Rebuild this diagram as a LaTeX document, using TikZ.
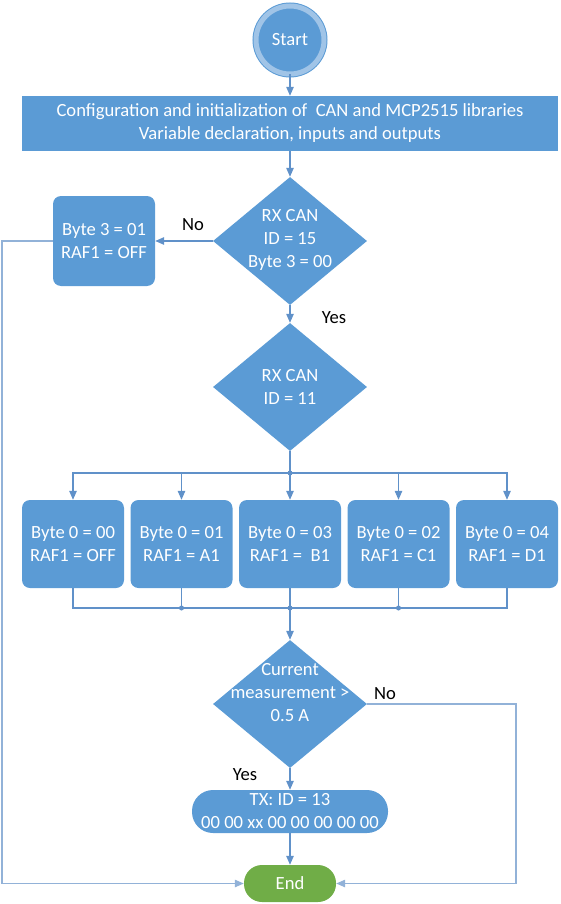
\documentclass[tikz,border=0pt]{standalone}
\usepackage{fontspec}
\setmainfont{Carlito}
\usepackage{tikz}
\usetikzlibrary{shapes,arrows.meta,positioning}
\definecolor{boxblue}{RGB}{91,155,213}
\definecolor{ringblue}{RGB}{160,196,231}
\definecolor{lineblue}{RGB}{96,145,201}
\definecolor{loopblue}{RGB}{146,178,216}
\definecolor{endgreen}{RGB}{112,173,71}

\begin{document}
\begin{tikzpicture}[
    node distance=100pt,
    font=\fontsize{18.6}{23}\selectfont,
    terminal/.style={circle, draw=boxblue, line width=1pt, double=ringblue, double distance=5pt, fill=boxblue, text=white, minimum size=68pt, inner sep=0pt},
    process/.style={rectangle, fill=boxblue, text=white, align=center, minimum width=536pt, minimum height=55pt},
    decision/.style={diamond, fill=boxblue, minimum width=154pt, minimum height=128pt, inner sep=0pt},
    dtext/.style={text=white, align=center, inner sep=0pt},
    choice/.style={rectangle, rounded corners=8pt, fill=boxblue, text=white, align=center, minimum width=102pt, minimum height=88pt, inner sep=2pt},
    txbox/.style={rectangle, rounded corners=21pt, fill=boxblue, text=white, align=center, minimum width=196pt, minimum height=43pt, inner sep=1pt},
    endbox/.style={rectangle, rounded corners=18pt, fill=endgreen, text=white, minimum width=92pt, minimum height=37pt},
    link/.style={draw=lineblue, line width=1.2pt},
    arrow/.style={-{Triangle[length=9pt,width=7.5pt]}, draw=lineblue, line width=1.2pt},
    loopline/.style={-{Triangle[length=9pt,width=7.5pt]}, draw=loopblue, line width=1.2pt}
]
\useasboundingbox (0,0) rectangle (561pt,-904pt);

% Main flow
\node[terminal] (start) at (290pt,-40pt) {Start};
\node[process, below of=start, yshift=16.5pt] (config) {Configuration and initialization of \ CAN and MCP2515 libraries\\Variable declaration, inputs and outputs};
\node[decision, below of=config, yshift=-17.5pt] (rx15) {};
\node[dtext, yshift=1pt] (rx15txt) at (rx15) {RX CAN\\ID = 15\\Byte 3 = 00};
\node[choice, left of=rx15, xshift=-86pt, minimum height=90pt] (off3) {Byte 3 = 01\\RAF1 = OFF};
\node[decision, below of=rx15, yshift=-46pt] (rx11) {};
\node[dtext] (rx11txt) at (rx11) {RX CAN\\ID = 11};

% Byte 0 cases
\node[choice, below of=rx11, yshift=-57pt] (b3) {Byte 0 = 03\\RAF1 = \ B1};
\node[choice, left of=b3, xshift=-8.5pt] (b2) {Byte 0 = 01\\RAF1 = A1};
\node[choice, left of=b2, xshift=-8.5pt] (b1) {Byte 0 = 00\\RAF1 = OFF};
\node[choice, right of=b3, xshift=8.5pt] (b4) {Byte 0 = 02\\RAF1 = C1};
\node[choice, right of=b4, xshift=8.5pt] (b5) {Byte 0 = 04\\RAF1 = D1};

% Current check and end
\node[decision, below of=b3, yshift=-60pt] (curr) {};
\node[dtext, yshift=11pt] (currtxt) at (curr) {Current\\measurement >\\0.5 A};
\node[txbox, below of=curr, yshift=-7.5pt] (tx) {TX: ID = 13\\00 00 xx 00 00 00 00 00};
\node[endbox, below of=tx, yshift=28pt] (finish) {End};

% Helper points
\coordinate[above of=b3, yshift=-29pt] (split);
\coordinate[below of=b3, yshift=36pt] (join);
\coordinate[left of=off3, xshift=-2pt] (lturn);
\coordinate[right of=curr, xshift=126pt] (rturn);

% Connections
\draw[arrow] (start) -- (config);
\draw[arrow] (config) -- (rx15);
\draw[arrow] (rx15) -- node[midway, above, xshift=9pt, yshift=6pt] {No} (off3);
\draw[arrow] (rx15) -- node[midway, right, xshift=28pt, yshift=-4pt] {Yes} (rx11);
\draw[link] (rx11) -- (split);
\foreach \b in {b1,b2,b3,b4,b5}
    \draw[arrow] (split) -| (\b);
\draw[link] (b1.south) |- (b5.south |- join) -- (b5.south);
\foreach \b in {b2,b3,b4}
    \draw[link] (\b) -- (\b |- join);
\foreach \b in {b2,b4}
    \fill[lineblue] (\b |- join) circle (2.5pt);
\fill[lineblue] (join) circle (2.5pt);
\fill[lineblue] (split) circle (2.5pt);
\draw[arrow] (join) -- (curr);
\draw[arrow] (curr) -- node[midway, left, xshift=-29pt, yshift=4pt] {Yes} (tx);
\draw[arrow] (tx) -- (finish);

% Return paths
\draw[loopline] (off3) -- (lturn) |- (finish);
\draw[loopline] (curr) -- node[pos=0.12, above] {No} (rturn) |- (finish);

\end{tikzpicture}
\end{document}
